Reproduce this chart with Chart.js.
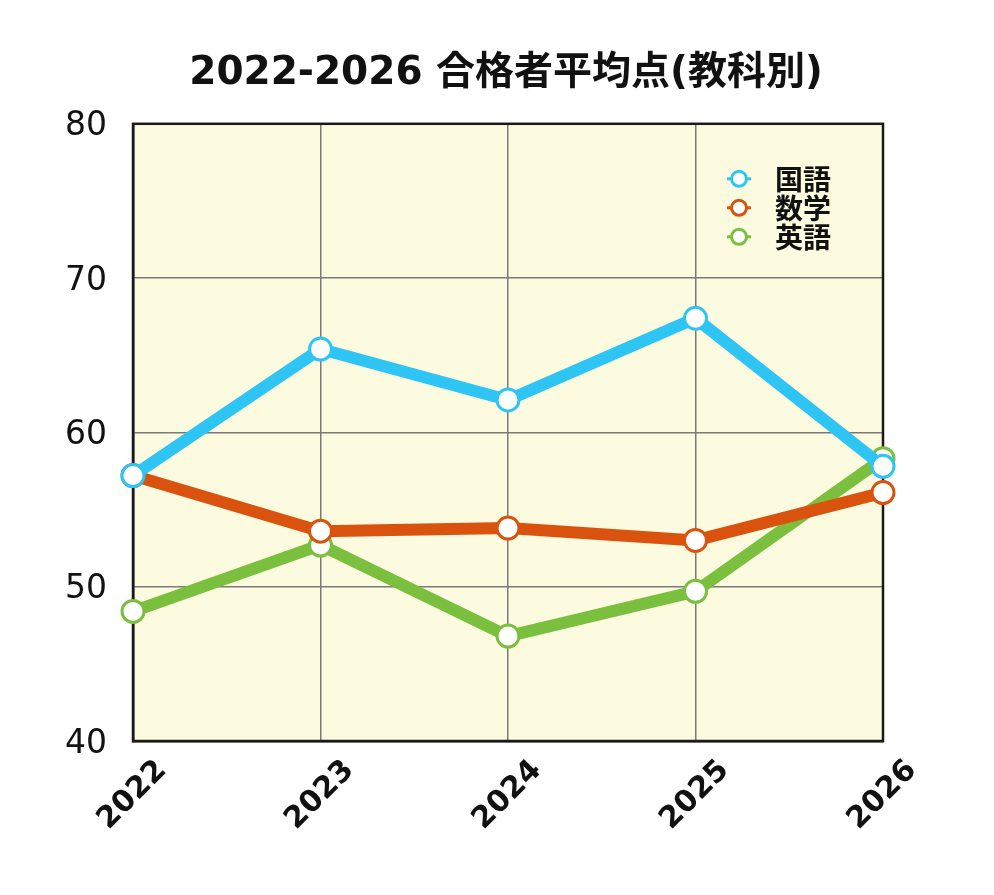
<!DOCTYPE html>
<html>
<head>
<meta charset="utf-8">
<script src="https://cdn.jsdelivr.net/npm/chart.js@4"></script>
<style>
  html, body { margin: 0; padding: 0; background: #fff; }
  #wrap { width: 994px; height: 895px; }
</style>
</head>
<body>
<div id="wrap"><canvas id="c"></canvas></div>
<script>
// データ
var YEARS = ['2022', '2023', '2024', '2025', '2026'];
var KOKUGO = [57.2, 65.4, 62.1, 67.4, 57.8];
var SUGAKU = [57.2, 53.6, 53.8, 53.0, 56.1];
var EIGO = [48.4, 52.7, 46.8, 49.7, 58.3];
var SERIES_NAMES = ['国語', '数学', '英語'];
var COLORS = ['#2ec4f3', '#d9530f', '#7bbf3e'];
var TITLE = '2022-2026 合格者平均点(教科別)';

var FONT = '"DejaVu Sans", "Noto Sans CJK JP", sans-serif';
var JP_FONT = '"Noto Sans CJK JP", sans-serif';

function ds(i, values) {
    return {
        label: SERIES_NAMES[i],
        data: values,
        borderColor: COLORS[i],
        backgroundColor: COLORS[i],
        borderWidth: 12,
        pointRadius: 11,
        pointHoverRadius: 11,
        pointBorderWidth: 3,
        pointBackgroundColor: '#ffffff',
        pointBorderColor: COLORS[i],
        tension: 0,
        clip: false
    };
}

// 背景色と枠線
var plotBg = {
    id: 'plotBg',
    beforeDraw: function (chart) {
        var a = chart.chartArea, ctx = chart.ctx;
        ctx.save();
        ctx.fillStyle = '#fcfbdf';
        ctx.fillRect(a.left, a.top, a.right - a.left, a.bottom - a.top);
        ctx.restore();
    },
    beforeDatasetsDraw: function (chart) {
        var a = chart.chartArea, ctx = chart.ctx;
        ctx.save();
        ctx.strokeStyle = '#1a1a1a';
        ctx.lineWidth = 2.5;
        ctx.strokeRect(a.left, a.top, a.right - a.left, a.bottom - a.top);
        ctx.restore();
    }
};

// 凡例 (プロット内右上)
var innerLegend = {
    id: 'innerLegend',
    afterDraw: function (chart) {
        var a = chart.chartArea, ctx = chart.ctx;
        ctx.save();
        chart.data.datasets.forEach(function (d, i) {
            var x = a.left + 606, y = a.top + 55 + i * 29;
            ctx.strokeStyle = d.borderColor;
            ctx.lineWidth = 3;
            ctx.beginPath();
            ctx.moveTo(x - 12, y);
            ctx.lineTo(x + 12, y);
            ctx.stroke();
            ctx.beginPath();
            ctx.arc(x, y, 7.5, 0, Math.PI * 2);
            ctx.fillStyle = '#ffffff';
            ctx.fill();
            ctx.stroke();
            ctx.fillStyle = '#111';
            ctx.font = 'bold 28px ' + JP_FONT;
            ctx.textBaseline = 'middle';
            ctx.textAlign = 'left';
            ctx.fillText(d.label, x + 36, y + 1);
        });
        ctx.restore();
    }
};

new Chart(document.getElementById('c'), {
    type: 'line',
    data: {
        labels: YEARS,
        datasets: [ds(0, KOKUGO), ds(1, SUGAKU), ds(2, EIGO)]
    },
    plugins: [plotBg, innerLegend],
    options: {
        responsive: true,
        maintainAspectRatio: false,
        animation: false,
        events: [],
        layout: {padding: {left: 18, right: 0, top: 0, bottom: 0}},
        plugins: {
            legend: {display: false},
            tooltip: {enabled: false},
            title: {
                display: true,
                text: TITLE,
                color: '#111',
                font: {family: FONT, size: 39, weight: 'bold', lineHeight: 1.2},
                padding: {top: 50, bottom: 27}
            }
        },
        scales: {
            x: {
                offset: false,
                grid: {color: '#7a7a7a', lineWidth: 1.5, drawTicks: false},
                border: {color: '#1a1a1a', width: 2.5},
                ticks: {
                    color: '#111',
                    font: {family: FONT, size: 30, weight: 'bold'},
                    minRotation: 45,
                    maxRotation: 45,
                    padding: 12,
                    labelOffset: 29,
                    autoSkip: false
                },
                afterFit: function (s) { s.height = 154; }
            },
            y: {
                min: 40,
                max: 80,
                grid: {color: '#7a7a7a', lineWidth: 1.5, drawTicks: false},
                border: {color: '#1a1a1a', width: 2.5},
                ticks: {
                    stepSize: 10,
                    color: '#111',
                    font: {family: FONT, size: 33},
                    padding: 26,
                    labelOffset: 3
                },
                afterFit: function (s) { s.width = 115; }
            },
            yRight: {
                type: 'linear',
                position: 'right',
                display: true,
                grid: {display: false},
                border: {display: false},
                ticks: {display: false},
                afterFit: function (s) { s.width = 111; }
            }
        }
    }
});
</script>
</body>
</html>
